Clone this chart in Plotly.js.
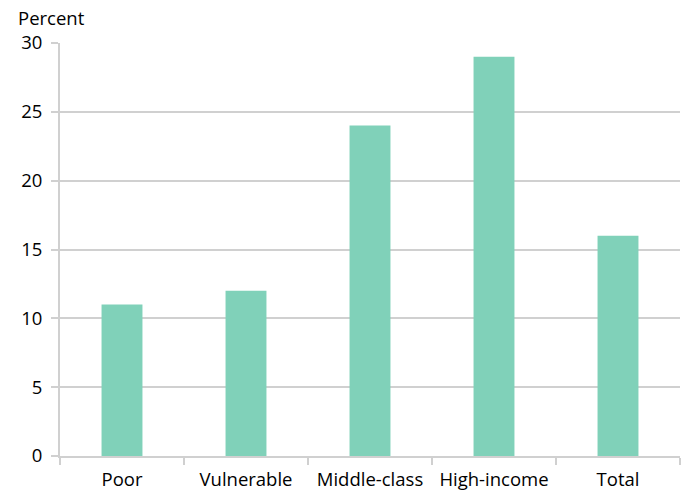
<!DOCTYPE html>
<html>
<head>
<meta charset="utf-8">
<script src="https://cdn.plot.ly/plotly-3.0.1.min.js"></script>
<style>html,body{margin:0;padding:0;background:#fff;}#chart{width:684px;height:491px;}</style>
</head>
<body>
<div id="chart"></div>
<script>
const categories = ["Poor", "Vulnerable", "Middle-class", "High-income", "Total"];
const values = [11, 12, 24, 29, 16];
const yTicks = [0, 5, 10, 15, 20, 25, 30];

const gridColor = "#d0d0d0";
const trace = {
  type: "bar",
  x: categories,
  y: values,
  marker: {color: "#80d1b9"},
  hoverinfo: "x+y"
};
const layout = {
  width: 684, height: 491,
  margin: {l: 60, r: 4, t: 43, b: 35},
  paper_bgcolor: "#fff", plot_bgcolor: "#fff",
  font: {family: "'Open Sans', sans-serif", size: 18.5, color: "#000"},
  bargap: 0.67,
  showlegend: false,
  xaxis: {
    type: "category",
    tickson: "boundaries",
    ticks: "outside", ticklen: 7, tickwidth: 2, tickcolor: gridColor,
    showline: true, linecolor: gridColor, linewidth: 2,
    showgrid: false, zeroline: false,
    ticklabelstandoff: 6
  },
  yaxis: {
    range: [0, 30],
    tickvals: yTicks,
    ticktext: yTicks.map(String),
    ticks: "outside", ticklen: 7, tickwidth: 2, tickcolor: gridColor,
    showline: true, linecolor: gridColor, linewidth: 2,
    showgrid: true, gridcolor: gridColor, gridwidth: 2,
    zeroline: false,
    ticklabelstandoff: 5
  },
  annotations: [{
    text: "Percent", xref: "paper", yref: "paper",
    x: -0.071, y: 1.062, xanchor: "left", yanchor: "middle",
    showarrow: false, font: {size: 18.5}
  }]
};
Plotly.newPlot("chart", [trace], layout, {displayModeBar: false, staticPlot: true});
</script>
</body>
</html>
